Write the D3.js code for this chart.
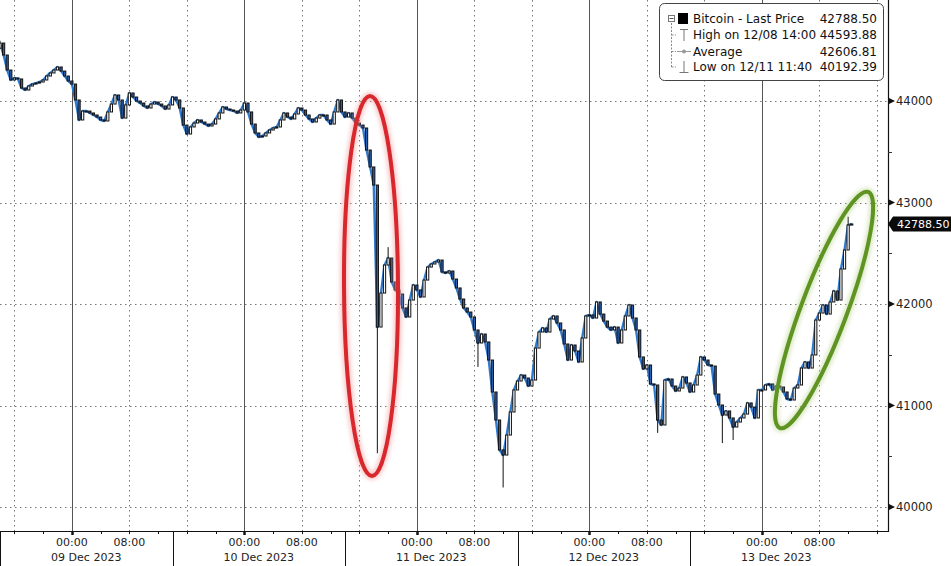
<!DOCTYPE html>
<html><head><meta charset="utf-8">
<script src="https://cdn.jsdelivr.net/npm/d3@7"></script>
<style>html,body{margin:0;padding:0;background:#fff;} svg{display:block;}</style>
</head><body><svg id="chart" width="951" height="566"></svg>
<script>
// ---------------- data ----------------
const startTime = "2023-12-08T14:00:00Z";
const stepMinutes = 30;
const firstOpen = 44520;
const closes = [
  44571, 44453, 44305, 44207, 44227, 44217, 44128, 44108, 44148, 44167,
  44177, 44187, 44207, 44246, 44276, 44305, 44335, 44295, 44246, 44197,
  44167, 44010, 43813, 43901, 43901, 43882, 43862, 43842, 43813, 43803,
  43892, 43970, 44059, 44010, 43832, 43961, 44079, 44039, 44000, 43980,
  43951, 43931, 43970, 43990, 43970, 43951, 43921, 43961, 44039, 44010,
  43931, 43763, 43675, 43744, 43783, 43813, 43793, 43773, 43754, 43773,
  43823, 43882, 43941, 43921, 43911, 43901, 43882, 43911, 43980, 43892,
  43773, 43685, 43645, 43655, 43685, 43714, 43734, 43744, 43813, 43882,
  43842, 43823, 43872, 43931, 43911, 43862, 43823, 43793, 43832, 43862,
  43862, 43813, 43773, 43892, 44010, 43892, 43842, 43882, 43832, 43783,
  43763, 43734, 43517, 43350, 43172, 41773, 42108, 42384, 42453, 42217,
  42138, 42098, 41961, 41872, 42039, 42187, 42138, 42069, 42236, 42364,
  42394, 42414, 42433, 42315, 42305, 42325, 42246, 42158, 42049, 41961,
  41921, 41872, 41744, 41616, 41704, 41626, 41448, 41133, 40857, 40562,
  40512, 40709, 40936, 41153, 41241, 41300, 41271, 41192, 41251, 41566,
  41724, 41764, 41724, 41852, 41882, 41813, 41744, 41606, 41448, 41596,
  41537, 41429, 41665, 41882, 41892, 41862, 42020, 41901, 41832, 41773,
  41744, 41773, 41616, 41744, 41882, 41990, 41862, 41744, 41478, 41360,
  41399, 41212, 41202, 40857, 40808, 41251, 41261, 41192, 41143, 41172,
  41281, 41222, 41133, 41202, 41300, 41478, 41448, 41399, 41389, 41113,
  41005, 40906, 40946, 40877, 40788, 40837, 40877, 40916, 41025, 40985,
  40877, 41153, 41153, 41202, 41212, 41153, 41192, 41182, 41133, 41064,
  41054, 41172, 41202, 41369, 41429, 41369, 41498, 41842, 41911, 41990,
  41901, 42020, 42128, 42039, 42345, 42532, 42778, 42788.50
];
// extreme wicks (candle index, price reached)
const wickIdx = [0, 105, 108, 133, 140, 183, 201, 204, 236];
const wickVal = [44593.88, 40530, 42560, 41380, 40192.39, 40730, 40630, 40660, 42860];

const yTicks = [40000, 41000, 42000, 43000, 44000];
const yMinorTicks = [40500, 41500, 42500, 43500];
const dayStarts = ["2023-12-09", "2023-12-10", "2023-12-11", "2023-12-12", "2023-12-13"];
const dayLabels = ["09 Dec 2023", "10 Dec 2023", "11 Dec 2023", "12 Dec 2023", "13 Dec 2023"];
const legendLabels = ["Bitcoin - Last Price", "High on 12/08 14:00", "Average", "Low on 12/11 11:40"];
const legendValues = ["42788.50", "44593.88", "42606.81", "40192.39"];
const lastPrice = 42788.50;

// ---------------- layout ----------------
const W = 951, H = 566;
const plotRight = 888, plotBottom = 531;
const svg = d3.select("#chart");
const FONT = "'DejaVu Sans', Verdana, sans-serif";

const t0 = new Date(startTime);
const hour = 3600e3;
const x = d3.scaleUtc()
  .domain([t0, new Date(+t0 + 120 * hour)])
  .range([0, 862.5]);
const y = d3.scaleLinear().domain([40000, 44000]).range([507, 101]);

const candles = closes.map((c, i) => {
  const o = i === 0 ? firstOpen : closes[i - 1];
  let hi = Math.max(o, c), lo = Math.min(o, c);
  const k = wickIdx.indexOf(i);
  if (k >= 0) { hi = Math.max(hi, wickVal[k]); lo = Math.min(lo, wickVal[k]); }
  return { t: new Date(+t0 + i * stepMinutes * 60e3), o, c, hi, lo };
});

const defs = svg.append("defs");
const glow = defs.append("filter").attr("id", "glow").attr("x", "-50%").attr("y", "-20%").attr("width", "200%").attr("height", "140%");
glow.append("feGaussianBlur").attr("stdDeviation", 2.2);

defs.append("clipPath").attr("id", "plotclip").append("rect")
  .attr("x", 0).attr("y", 0).attr("width", plotRight).attr("height", plotBottom);

const grid = svg.append("g");
grid.selectAll("line.hg").data(yTicks).join("line")
  .attr("x1", 0).attr("x2", plotRight)
  .attr("y1", d => Math.round(y(d)) + 0.5).attr("y2", d => Math.round(y(d)) + 0.5)
  .attr("stroke", "#777").attr("stroke-width", 1).attr("stroke-dasharray", "1.5,3.5");

const vTimes = d3.utcHour.every(8).range(new Date("2023-12-08T15:00:00Z"), new Date("2023-12-13T18:00:00Z"));
grid.selectAll("line.vg").data(vTimes).join("line")
  .attr("x1", d => Math.round(x(d)) + 0.5).attr("x2", d => Math.round(x(d)) + 0.5)
  .attr("y1", 0).attr("y2", plotBottom)
  .attr("stroke", d => d.getUTCHours() === 0 ? "#555" : "#777")
  .attr("stroke-width", 1)
  .attr("stroke-dasharray", d => d.getUTCHours() === 0 ? null : "1.5,3.5");

// ---------------- series ----------------
const plot = svg.append("g").attr("clip-path", "url(#plotclip)");
const step = x(new Date(+t0 + stepMinutes * 60e3)) - x(t0);
const bw = Math.max(1.6, step * 0.62);

plot.append("path").datum(candles)
  .attr("fill", "none").attr("stroke", "#2f7bd0").attr("stroke-width", 2.4)
  .attr("stroke-linejoin", "round")
  .attr("d", d3.line().x(d => x(d.t)).y(d => y(d.c)));

plot.selectAll("line.wick").data(candles).join("line")
  .attr("x1", d => x(d.t)).attr("x2", d => x(d.t))
  .attr("y1", d => y(d.hi)).attr("y2", d => y(d.lo))
  .attr("stroke", "#111").attr("stroke-width", 1);

plot.selectAll("rect.body").data(candles).join("rect")
  .attr("x", d => x(d.t) - bw / 2)
  .attr("width", bw)
  .attr("y", d => y(Math.max(d.o, d.c)))
  .attr("height", d => Math.max(1, Math.abs(y(d.o) - y(d.c))))
  .attr("fill", d => d.c >= d.o ? "#ffffff" : "#2b5fb0")
  .attr("stroke", "#111").attr("stroke-width", 1);

// ---------------- annotations (ellipses) ----------------
const ann = svg.append("g");
function ellipse(cx, cy, rx, ry, rot, color, glowColor) {
  const g = ann.append("g").attr("transform", `translate(${cx},${cy}) rotate(${rot})`);
  g.append("ellipse").attr("rx", rx).attr("ry", ry).attr("fill", "none")
    .attr("stroke", glowColor).attr("stroke-width", 8).attr("opacity", 0.55).attr("filter", "url(#glow)");
  g.append("ellipse").attr("rx", rx).attr("ry", ry).attr("fill", "none")
    .attr("stroke", color).attr("stroke-width", 4);
}
ellipse(371, 286, 27, 190, -0.3, "#d8272d", "#f39a9a");
ellipse(824, 310, 23, 126, 20.5, "#5f9322", "#b9d48f");

// ---------------- right axis ----------------
const ax = svg.append("g");
ax.append("line").attr("x1", plotRight + 0.5).attr("x2", plotRight + 0.5)
  .attr("y1", 0).attr("y2", plotBottom + 1).attr("stroke", "#111").attr("stroke-width", 1.2);
yTicks.forEach(v => {
  const yy = y(v);
  ax.append("path").attr("d", `M${plotRight},${yy - 3.5}L${plotRight + 7},${yy}L${plotRight},${yy + 3.5}Z`).attr("fill", "#111");
  ax.append("text").attr("x", 896).attr("y", yy).attr("dy", "0.36em")
    .attr("font-family", FONT).attr("font-size", 11.5).attr("fill", "#222").text(v);
});
yMinorTicks.forEach(v => {
  const yy = Math.round(y(v)) + 0.5;
  ax.append("line").attr("x1", plotRight).attr("x2", plotRight + 4).attr("y1", yy).attr("y2", yy)
    .attr("stroke", "#333").attr("stroke-width", 1);
});
{
  const yp = y(lastPrice);
  ax.append("path").attr("d", `M${plotRight},${yp}L${plotRight + 5},${yp - 7.5}L${W},${yp - 7.5}L${W},${yp + 7.5}L${plotRight + 5},${yp + 7.5}Z`)
    .attr("fill", "#0a0a0a");
  ax.append("text").attr("x", 897).attr("y", yp).attr("dy", "0.36em")
    .attr("font-family", FONT).attr("font-size", 11).attr("fill", "#fff").text(lastPrice.toFixed(2));
}

// ---------------- bottom axis ----------------
const bx = svg.append("g");
bx.append("line").attr("x1", 0).attr("x2", plotRight + 1).attr("y1", plotBottom + 0.5).attr("y2", plotBottom + 0.5)
  .attr("stroke", "#111").attr("stroke-width", 1.2);
const tickTimes = d3.utcHour.every(4).range(new Date("2023-12-08T15:00:00Z"), new Date("2023-12-13T18:00:00Z"));
bx.selectAll("line.tk").data(tickTimes).join("line")
  .attr("x1", d => Math.round(x(d)) + 0.5).attr("x2", d => Math.round(x(d)) + 0.5)
  .attr("y1", plotBottom).attr("y2", d => plotBottom + (d.getUTCHours() === 0 ? 4 : 3))
  .attr("stroke", "#111").attr("stroke-width", d => d.getUTCHours() === 0 ? 2.5 : 1);
const labTimes = tickTimes.filter(d => d.getUTCHours() === 0 || d.getUTCHours() === 8);
bx.selectAll("text.hr").data(labTimes).join("text")
  .attr("x", d => x(d)).attr("y", 546).attr("text-anchor", "middle")
  .attr("font-family", FONT).attr("font-size", 11).attr("fill", "#222")
  .text(d3.utcFormat("%H:%M"));
const sepTimes = [new Date("2023-12-08T14:00:00Z")].concat(dayStarts.slice(0, 4).map(d => new Date(d + "T14:00:00Z")));
bx.selectAll("line.sep").data(sepTimes).join("line")
  .attr("x1", d => Math.max(0.5, Math.round(x(d)) + 0.5)).attr("x2", d => Math.max(0.5, Math.round(x(d)) + 0.5))
  .attr("y1", plotBottom).attr("y2", H)
  .attr("stroke", "#111").attr("stroke-width", 1);
bx.selectAll("text.day").data(dayStarts).join("text")
  .attr("x", d => x(new Date(d + "T02:00:00Z"))).attr("y", 561).attr("text-anchor", "middle")
  .attr("font-family", FONT).attr("font-size", 11).attr("fill", "#222")
  .text((d, i) => dayLabels[i]);

// ---------------- legend ----------------
const lg = svg.append("g");
lg.append("rect").attr("x", 659.5).attr("y", 3.5).attr("width", 224).attr("height", 77).attr("rx", 5)
  .attr("fill", "#fff").attr("stroke", "#444").attr("stroke-width", 1);
const rowY = [19, 35, 51.5, 67];
lg.append("line").attr("x1", 671.5).attr("x2", 671.5).attr("y1", 23).attr("y2", 67.5)
  .attr("stroke", "#888").attr("stroke-dasharray", "2,1.5");
[35, 51.5, 67].forEach(r => lg.append("line").attr("x1", 671.5).attr("x2", 676).attr("y1", r).attr("y2", r)
  .attr("stroke", "#888").attr("stroke-dasharray", "2,1.5"));
lg.append("rect").attr("x", 668.5).attr("y", 15.5).attr("width", 6).attr("height", 6).attr("fill", "#fff").attr("stroke", "#777");
lg.append("line").attr("x1", 669.5).attr("x2", 673.5).attr("y1", 18.5).attr("y2", 18.5).attr("stroke", "#555");
lg.append("rect").attr("x", 678).attr("y", 13).attr("width", 10).attr("height", 11).attr("fill", "#000");
lg.append("path").attr("d", "M680,29.5H688M684,29.5V41").attr("stroke", "#777").attr("fill", "none");
lg.append("path").attr("d", "M677,51.5H691").attr("stroke", "#999").attr("fill", "none");
lg.append("circle").attr("cx", 684).attr("cy", 51.5).attr("r", 2).attr("fill", "#999");
lg.append("path").attr("d", "M684,61V72.5M679.5,72.5H688.5").attr("stroke", "#777").attr("fill", "none");
legendLabels.forEach((t, i) => {
  lg.append("text").attr("x", 693).attr("y", rowY[i]).attr("dy", "0.36em")
    .attr("font-family", FONT).attr("font-size", 12).attr("fill", "#111").text(t);
  lg.append("text").attr("x", 877).attr("y", rowY[i]).attr("dy", "0.36em").attr("text-anchor", "end")
    .attr("font-family", FONT).attr("font-size", 12).attr("fill", "#111").text(legendValues[i]);
});
</script>
</body></html>
